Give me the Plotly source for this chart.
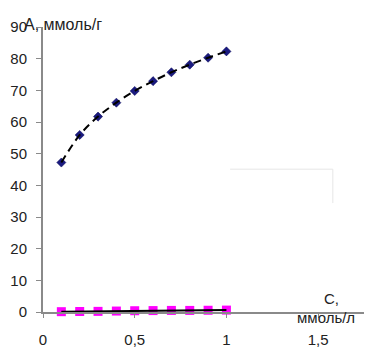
import plotly.graph_objects as go

conc = [0.1, 0.2, 0.3, 0.4, 0.5, 0.6, 0.7, 0.8, 0.9, 1.0]
ads_1 = [47.2, 55.9, 61.7, 66.1, 69.8, 72.9, 75.7, 78.1, 80.3, 82.3]
ads_2 = [0.1, 0.15, 0.2, 0.3, 0.4, 0.45, 0.5, 0.5, 0.55, 0.6]
x_ticks = [0, 0.5, 1, 1.5]
x_tick_text = ["0", "0,5", "1", "1,5"]
y_ticks = [0, 10, 20, 30, 40, 50, 60, 70, 80, 90]

font = dict(family="Liberation Sans, Arial, sans-serif", size=15, color="#222222")

fig = go.Figure()
fig.add_trace(go.Scatter(x=conc, y=ads_1, mode="markers",
                         marker=dict(symbol="diamond", size=7, color="#1a1a80",
                                     line=dict(width=0.5, color="#000050")),
                         showlegend=False))
fig.add_trace(go.Scatter(x=conc, y=ads_1, mode="lines",
                         line=dict(color="black", width=2, dash="8px,5px", shape="spline"),
                         showlegend=False))
fig.add_trace(go.Scatter(x=conc, y=ads_2, mode="markers",
                         marker=dict(symbol="square", size=9, color="#ff00ff"),
                         cliponaxis=False, showlegend=False))
fig.add_trace(go.Scatter(x=conc, y=ads_2, mode="lines",
                         line=dict(color="black", width=2),
                         showlegend=False))

fig.update_layout(
    width=364, height=351,
    margin=dict(l=35, r=8, t=19, b=47, autoexpand=False),
    paper_bgcolor="white", plot_bgcolor="white",
    font=font,
    xaxis=dict(range=[0, 1.75], tickvals=x_ticks, ticktext=x_tick_text,
               showgrid=False, zeroline=False, showline=True, automargin=False,
               linecolor="#8a8a8a", linewidth=1.5,
               ticks="outside", ticklen=4, tickcolor="#8a8a8a",
               ticklabelstandoff=9, tickfont=font),
    yaxis=dict(range=[0, 90], tickvals=y_ticks,
               showgrid=False, zeroline=False, showline=True, automargin=False,
               linecolor="#8a8a8a", linewidth=2,
               ticks="outside", ticklen=5, tickcolor="#8a8a8a",
               ticklabelstandoff=6, tickfont=font),
    shapes=[
        dict(type="line", xref="x", yref="y", x0=1.02, x1=1.58, y0=45.1, y1=45.1,
             line=dict(color="#e6e6e6", width=1)),
        dict(type="line", xref="x", yref="y", x0=1.58, x1=1.58, y0=45.1, y1=34.4,
             line=dict(color="#e6e6e6", width=1)),
    ],
    annotations=[
        dict(text="A, ммоль/г", xref="paper", yref="paper", x=-0.065, y=1.008,
             xanchor="left", yanchor="middle", showarrow=False,
             font=dict(family=font["family"], size=16, color=font["color"])),
        dict(text="C,", xref="paper", yref="paper", x=0.869, y=0.049,
             xanchor="left", yanchor="middle", showarrow=False, font=font),
        dict(text="ммоль/л", xref="paper", yref="paper", x=0.978, y=-0.018,
             xanchor="right", yanchor="middle", showarrow=False, font=font),
    ],
)

fig.write_html("out.html")
